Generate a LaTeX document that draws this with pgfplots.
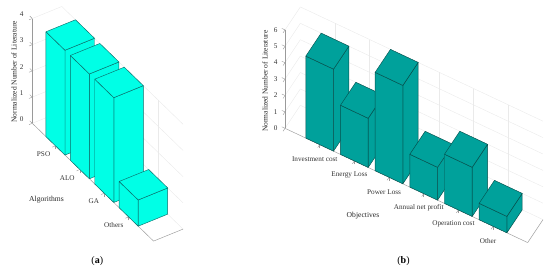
\documentclass[border=0pt]{standalone}
\usepackage{pgfplots}
\pgfplotsset{compat=1.18}
\usepackage{fontspec}
\setmainfont{Liberation Serif}
\definecolor{cyanbar}{HTML}{00FFE6}
\definecolor{tealbar}{HTML}{00A19B}
\definecolor{edgea}{HTML}{0B6E6B}
\definecolor{edgeb}{HTML}{06504D}
\definecolor{axln}{HTML}{9A9A9A}
\definecolor{gridln}{HTML}{EAEAEA}
\newcommand{\threedbar}[5]{%
 % colour, edge, x0, x1, height
 \addplot3[fill=#1,draw=#2,line width=0.45pt,no markers,line join=round] coordinates {(#4,0,0)(#4,1,0)(#4,1,#5)(#4,0,#5)(#4,0,0)};
 \addplot3[fill=#1,draw=#2,line width=0.45pt,no markers,line join=round] coordinates {(#3,0,0)(#4,0,0)(#4,0,#5)(#3,0,#5)(#3,0,0)};
 \addplot3[fill=#1,draw=#2,line width=0.45pt,no markers,line join=round] coordinates {(#3,0,#5)(#4,0,#5)(#4,1,#5)(#3,1,#5)(#3,0,#5)};
}
\pgfplotsset{common/.style={
  clip=false,
  anchor=origin,
  axis lines=left,
  tick align=outside,
  grid=major,
  major grid style={gridln,line width=0.4pt},
  axis line style={axln,line width=0.45pt,-},
  y axis line style={draw=none},
  tick style={axln,line width=0.4pt},
  major tick length=3.5pt,
  ymin=0,ymax=1,ytick=\empty,
  zmin=0,
  tick label style={font=\fontsize{7.2}{8}\selectfont,text=black!80},
  /pgf/number format/assume math mode=true,
  z tick label style={xshift=-2pt,yshift=4.5pt},
  every axis z label/.style={font=\fontsize{7.5}{9}\selectfont,text=black!85,rotate=90,anchor=center},
  every axis x label/.style={font=\fontsize{7.6}{9}\selectfont,text=black!85,anchor=center},
}}
\begin{document}
\begin{tikzpicture}[x=1pt,y=1pt]
\useasboundingbox (0,0) rectangle (550,271);
\begin{axis}[common,at={(32.3pt,147.7pt)},
  x={(24.4pt,-23.7pt)},y={(29.5pt,12pt)},z={(0pt,26.2pt)},
  xmin=0,xmax=4.97,zmax=4,
  xtick={0.95,1.95,2.95,3.95},xticklabels={PSO,ALO,GA,Others},
  x tick label style={rotate=0,anchor=east,xshift=1.5pt,yshift=-7pt},
  ztick={0,1,2,3,4},
  xlabel={Algorithms},
  xlabel style={at={(axis cs:2.45,-1.545,0)}},
  zlabel={Normalized Number of Literature},
  zlabel style={at={(axis cs:0,-0.62,2.25)}},
]
\addplot3[axln,line width=0.45pt,no markers] coordinates {(4.97,0,0)(4.97,1,0)};
\threedbar{cyanbar}{edgea}{0.56}{1.34}{4}
\threedbar{cyanbar}{edgea}{1.56}{2.34}{4}
\threedbar{cyanbar}{edgea}{2.56}{3.34}{4}
\threedbar{cyanbar}{edgea}{3.56}{4.34}{1}
\end{axis}
\begin{axis}[common,at={(285pt,142.7pt)},
  x={(34.67pt,-16.33pt)},y={(15.33pt,23pt)},z={(0pt,16.4pt)},
  xmin=0,xmax=7,zmax=6,
  xtick={1,2,3,4,5,6},xticklabels={Investment cost,Energy Loss,Power Loss,Annual net profit,Operation cost,Other},
  x tick label style={rotate=0,anchor=center,xshift=-3pt,yshift=-11.5pt},
  ztick={0,1,2,3,4,5,6},
  xlabel={Objectives},
  xlabel style={at={(axis cs:2.985,-1.663,0)}},
  zlabel={Normalized Number of Literature},
  zlabel style={at={(axis cs:0,-1.305,4.71)}},
]
\addplot3[axln,line width=0.45pt,no markers] coordinates {(7,0,0)(7,1,0)};
\threedbar{tealbar}{edgeb}{0.6}{1.4}{5}
\threedbar{tealbar}{edgeb}{1.6}{2.4}{3}
\threedbar{tealbar}{edgeb}{2.6}{3.4}{6}
\threedbar{tealbar}{edgeb}{3.6}{4.4}{2}
\threedbar{tealbar}{edgeb}{4.6}{5.4}{3}
\threedbar{tealbar}{edgeb}{5.6}{6.4}{1}
\end{axis}
\node[font=\fontsize{10}{11}\selectfont] at (97.3,9.5) {(\textbf{a})};
\node[font=\fontsize{10}{11}\selectfont] at (403.5,9.5) {(\textbf{b})};
\end{tikzpicture}
\end{document}
